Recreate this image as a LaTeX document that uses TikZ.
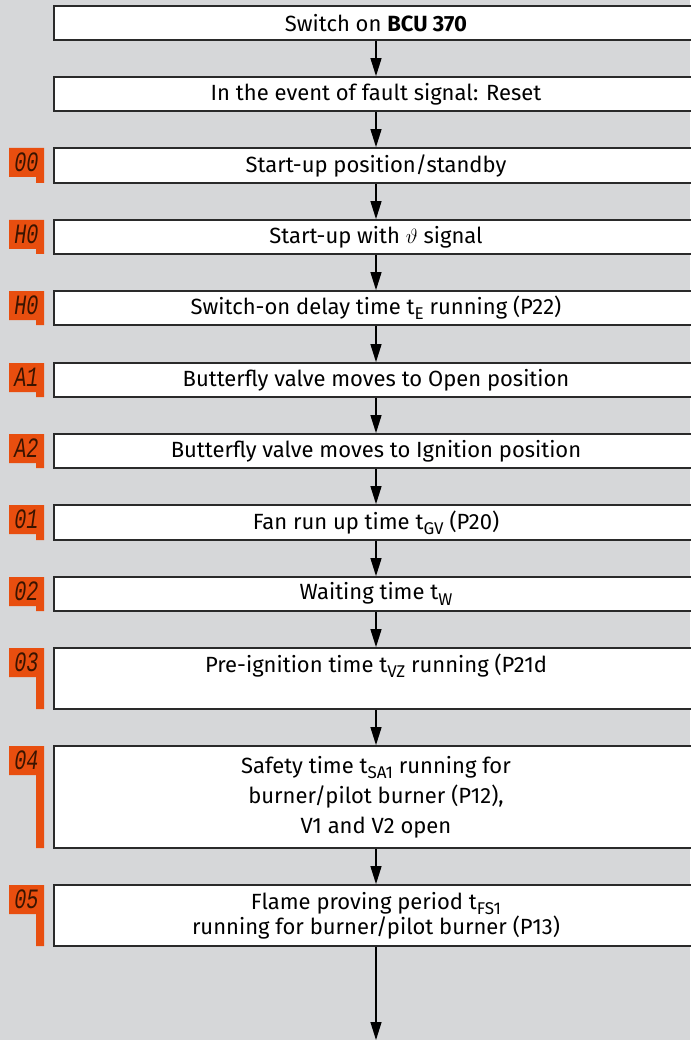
\documentclass[tikz,border=0pt]{standalone}
\usepackage{fontspec}
\setmainfont{Fira Sans}
\newfontfamily\segfont[FakeStretch=0.72]{Liberation Mono}
\usetikzlibrary{arrows.meta}
\definecolor{bg}{HTML}{D6D7D9}
\definecolor{orng}{HTML}{E84E0F}
\definecolor{edgec}{HTML}{2A2A2A}
\definecolor{segc}{HTML}{3A1400}
\newcommand{\tsub}[1]{\raisebox{-0.45ex}{\fontsize{17}{17}\selectfont #1}}
\newcommand{\badge}[4]{%
  \fill[orng] (9,#2) -- (44,#2) -- (44,#3) -- (36,#3) -- (36,{#2+29}) -- (9,{#2+29}) -- cycle;
  \node[segtext] (#1) at (26.5,{#2+14.5}) {#4};}
\begin{document}
\begin{tikzpicture}[x=1pt,y=-1pt,
  box/.style={draw=edgec, line width=1.8pt, fill=white, minimum width=644pt, inner sep=0pt, align=center, font=\fontsize{22}{30}\selectfont},
  boxtext/.style={inner sep=0pt, align=center, font=\fontsize{22}{25}\selectfont},
  segtext/.style={inner sep=0pt, text=segc, font=\segfont\itshape\fontsize{28}{28}\selectfont},
  arr/.style={draw=black, line width=1.3pt, -{Triangle[length=18pt,width=11pt]}}]
\fill[bg] (0,0) rectangle (690,1040);
\useasboundingbox (0,0) rectangle (690,1040);

\node[box, minimum height=34pt] (b1) at (376,23) {Switch on \textbf{BCU 370}};
\node[box, minimum height=34pt] (b2) at (376,94) {In the event of fault signal: Reset};
\node[box, minimum height=35pt] (b3) at (376,165.5) {Start-up position/standby};
\node[box, minimum height=34pt] (b4) at (376,237) {Start-up with $\vartheta$ signal};
\node[box, minimum height=34pt] (b5) at (376,308) {Switch-on delay time t\tsub{E} running (P22)};
\node[box, minimum height=34pt] (b6) at (376,380) {Butterfly valve moves to Open position};
\node[box, minimum height=34pt] (b7) at (376,451) {Butterfly valve moves to Ignition position};
\node[box, minimum height=35pt] (b8) at (376,522.5) {Fan run up time t\tsub{GV} (P20)};
\node[box, minimum height=34pt] (b9) at (376,594) {Waiting time t\tsub{W}};
\node[box, minimum height=61pt] (b10) at (376,678.5) {};
\node[boxtext] (t10) at (376,666) {Pre-ignition time t\tsub{VZ} running (P21d};
\node[box, minimum height=102pt, font=\fontsize{22}{30}\selectfont] (b11) at (376,797)
  {Safety time t\tsub{SA1} running for\\burner/pilot burner (P12),\\V1 and V2 open};
\node[box, minimum height=61pt, font=\fontsize{22}{25}\selectfont] (b12) at (376,915.5)
  {Flame proving period t\tsub{FS1}\\running for burner/pilot burner (P13)};
\coordinate (end) at (376,1040);

\draw[arr] (b1) -- (b2);
\draw[arr] (b2) -- (b3);
\draw[arr] (b3) -- (b4);
\draw[arr] (b4) -- (b5);
\draw[arr] (b5) -- (b6);
\draw[arr] (b6) -- (b7);
\draw[arr] (b7) -- (b8);
\draw[arr] (b8) -- (b9);
\draw[arr] (b9) -- (b10);
\draw[arr] (b10) -- (b11);
\draw[arr] (b11) -- (b12);
\draw[arr] (b12) -- (end);

\badge{s3}{148}{183}{00}
\badge{s4}{220}{254}{H0}
\badge{s5}{291}{325}{H0}
\badge{s6}{363}{397}{A1}
\badge{s7}{434}{468}{A2}
\badge{s8}{505}{540}{01}
\badge{s9}{577}{611}{02}
\badge{s10}{648}{709}{03}
\badge{s11}{746}{848}{04}
\badge{s12}{885}{946}{05}
\end{tikzpicture}
\end{document}
